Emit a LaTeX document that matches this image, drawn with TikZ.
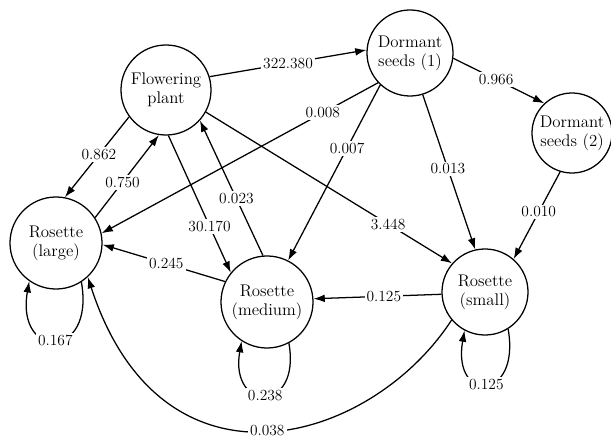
\documentclass[tikz,border=0pt]{standalone}
\usepackage{tikz}
\usetikzlibrary{arrows.meta}

\begin{document}
\begin{tikzpicture}[x=0.025cm, y=0.025cm,
        stage/.style={circle, draw, line width=0.9pt, minimum size=#1,
                      inner sep=0pt, align=center,
                      font=\fontsize{12}{13.5}\selectfont},
        stage/.default=2.2cm,
        arr/.style={-{Latex[length=8pt, width=5.5pt]}, line width=0.9pt},
        lbl/.style={fill=white, inner sep=1.5pt, font=\fontsize{11}{12}\selectfont}
      ]
        \useasboundingbox (0,0) rectangle (611,442);
        % life stages
        \node[stage=2.25cm] (fp)  at (166,352) {Flowering\\plant};
        \node[stage=2.15cm] (ds1) at (410,389) {Dormant\\seeds (1)};
        \node[stage=2.0cm]  (ds2) at (572,309) {Dormant\\seeds (2)};
        \node[stage=2.3cm]  (rl)  at (56,199)  {Rosette\\(large)};
        \node[stage=2.3cm]  (rm)  at (267,140) {Rosette\\(medium)};
        \node[stage=2.15cm] (rs)  at (485,150) {Rosette\\(small)};
        % transitions
        \draw[arr] (fp.17) -- node[lbl, pos=0.5] {322.380} (ds1.176);
        \draw[arr] (fp.216) -- node[lbl, pos=0.47] {0.862} (rl.79);
        \draw[arr] (rl.33) -- node[lbl, pos=0.43] {0.750} (fp.261);
        \draw[arr] (ds1.223) -- node[lbl, pos=0.2] {0.008} (rl.12);
        \draw[arr] (ds1.227) -- node[lbl, pos=0.36] {0.007} (rm.63);
        \draw[arr] (ds1.287) -- node[lbl, pos=0.48] {0.013} (rs.103);
        \draw[arr] (ds1.-7) -- node[lbl, pos=0.47] {0.966} (ds2.133);
        \draw[arr] (ds2.-107) -- node[lbl, pos=0.46] {0.010} (rs.49);
        \draw[arr] (fp.-87) -- node[lbl, pos=0.66] {30.170} (rm.141);
        \draw[arr] (rm.95) -- node[lbl, pos=0.42] {0.023} (fp.-42);
        \draw[arr] (fp.-29) -- node[lbl, pos=0.74] {3.448} (rs.139);
        \draw[arr] (rm.154) -- node[lbl, pos=0.48] {0.245} (rl.-2);
        \draw[arr] (rs.183) -- node[lbl, pos=0.45] {0.125} (rm.4);
        \draw[arr] (rs.220) to[out=-123, in=-72, out distance=3.7cm, in distance=6cm]
          node[lbl] {0.038} (rl.-47);
        % staying in the same stage
        \draw[arr] (rl.-57) to[out=-80, in=-100, distance=2cm] node[lbl] {0.167} (rl.-125);
        \draw[arr] (rm.-62) to[out=-80, in=-100, distance=1.8cm] node[lbl] {0.238} (rm.-123);
        \draw[arr] (rs.-58) to[out=-80, in=-100, distance=1.85cm] node[lbl] {0.125} (rs.-118);
      \end{tikzpicture}
\end{document}
